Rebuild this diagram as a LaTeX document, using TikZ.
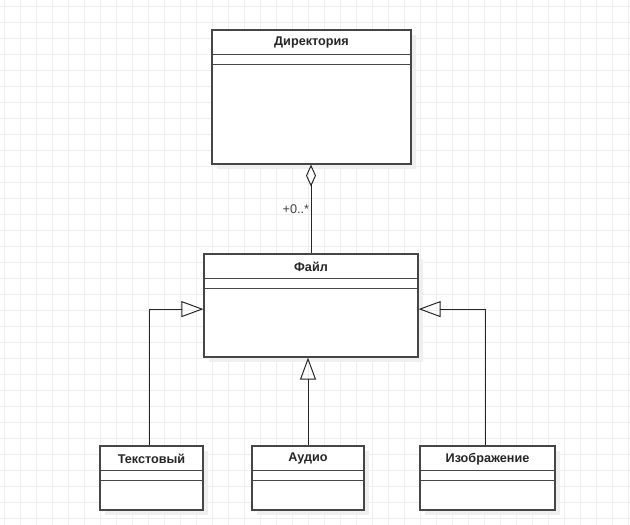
\documentclass[tikz,border=0pt]{standalone}
\usepackage{fontspec}
\setmainfont{Liberation Sans}
\usepackage{tikz}
\usetikzlibrary{arrows.meta, calc, shadows}
\usepackage{xcolor}
\definecolor{gridgray}{HTML}{EEEEEE}
\definecolor{boxline}{HTML}{464646}
\definecolor{shade}{HTML}{EFEFEF}
\tikzset{
  gridline/.style = {draw=gridgray, line width=0.5pt},
  umlbox/.style   = {draw=boxline, fill=white, line width=0.85pt, inner sep=0pt,
                     drop shadow={shadow xshift=0.12cm, shadow yshift=-0.12cm,
                                  fill=shade, opacity=1}},
  umlline/.style  = {draw=boxline, line width=0.85pt},
  umltitle/.style = {font=\fontsize{9}{11}\selectfont\bfseries, text=black!85, inner sep=0pt},
  gen/.style      = {-{Triangle[open, length=0.55cm, width=0.4cm]}, line width=0.7pt, draw=black!85},
  aggr/.style     = {-{Diamond[open, length=0.55cm, width=0.25cm]}, line width=0.7pt, draw=black!85},
  mult/.style     = {font=\fontsize{9}{11}\selectfont, text=black!75, inner sep=1pt}
}
\newcommand{\umlclass}[6]{%
  \node[umlbox, minimum width=#4*0.025cm, minimum height=#5*0.025cm] (#1) at (#2,#3) {};
  \node[umltitle] (#1-title) at ($(#1.north)+(0,13.5)$) {#6};
  \draw[umlline] ($(#1.north west)+(0,25)$) -- ($(#1.north east)+(0,25)$);
  \draw[umlline] ($(#1.north west)+(0,35)$) -- ($(#1.north east)+(0,35)$);
}
\begin{document}
\begin{tikzpicture}[x=0.025cm, y=-0.025cm]
\fill[white] (0,0) rectangle (630,525);
\useasboundingbox (0,0) rectangle (630,525);
\foreach \gx in {4,20,...,628} \draw[gridline] (\gx,0) -- (\gx,525);
\foreach \gy in {6,22,...,518} \draw[gridline] (0,\gy) -- (630,\gy);
\umlclass{dir}{311.5}{97}{199}{134}{Директория}
\umlclass{file}{311}{305.5}{214}{103}{Файл}
\umlclass{text}{151.5}{478}{103}{64}{Текстовый}
\umlclass{audio}{308}{478}{112}{64}{Аудио}
\umlclass{image}{487.5}{478}{135}{64}{Изображение}
\draw[aggr] (file.north) -- node[mult, left] {+0..*} (file.north |- dir.south);
\draw[gen] ([xshift=-0.06cm]text.north) |- ([yshift=-0.09cm]file.west);
\draw[gen] (audio.north) -- (audio.north |- file.south);
\draw[gen] ([xshift=-0.05cm]image.north) |- ([yshift=-0.09cm]file.east);
\end{tikzpicture}
\end{document}
